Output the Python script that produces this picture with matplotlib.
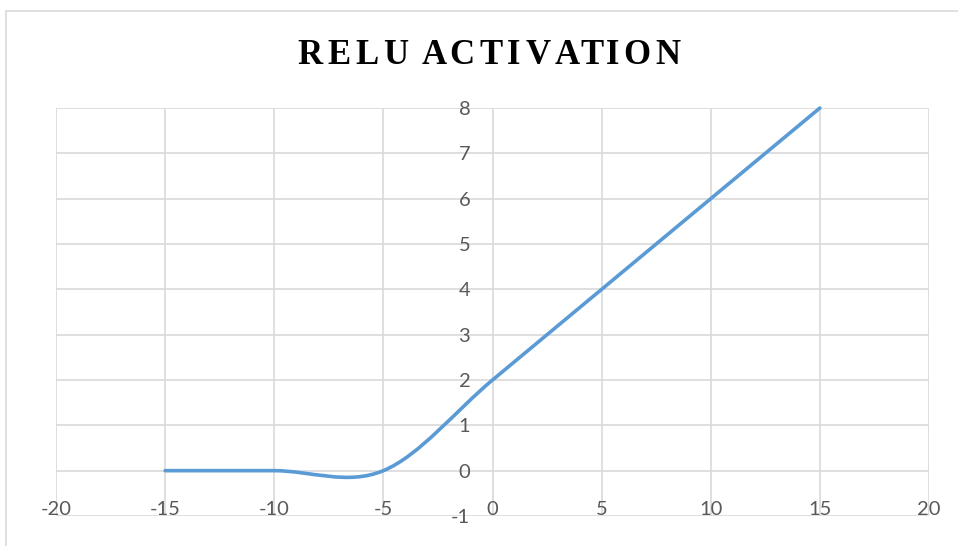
import matplotlib.pyplot as plt
from matplotlib.path import Path
from matplotlib.patches import PathPatch, Rectangle
from matplotlib.font_manager import FontProperties
import numpy as np

# datos del gráfico
x_vals = [-15, -10, -5, 0, 5, 10, 15]
y_vals = [0, 0, 0, 2, 4, 6, 8]
x_ticks = [-20, -15, -10, -5, 0, 5, 10, 15, 20]
y_ticks = [-1, 0, 1, 2, 3, 4, 5, 6, 7, 8]
titulo = "RELU ACTIVATION"

azul = "#5B9BD5"
gris_grid = "#D9D9D9"
gris_txt = "#595959"


def smooth_path(xs, ys):
    """Curva suavizada tipo Excel (Bezier estilo Catmull-Rom)."""
    pts = np.column_stack([xs, ys]).astype(float)
    pad = np.vstack([pts[0], pts, pts[-1]])
    verts = [pts[0]]
    codes = [Path.MOVETO]
    for i in range(len(pts) - 1):
        p0, p1, p2, p3 = pad[i], pad[i + 1], pad[i + 2], pad[i + 3]
        c1 = p1 + (p2 - p0) / 6
        c2 = p2 - (p3 - p1) / 6
        verts += [c1, c2, p2]
        codes += [Path.CURVE4] * 3
    return Path(verts, codes)


fig = plt.figure(figsize=(9.58, 5.46), dpi=100)

# borde del área del gráfico
fig.patches.append(Rectangle((6 / 958, -0.1), 1.2, (546 - 11) / 546 + 0.1,
                             transform=fig.transFigure, fill=False,
                             edgecolor="#D9D9D9", linewidth=1.2))

ax = fig.add_axes([56 / 958, 30 / 546, (929 - 56) / 958, (516 - 108) / 546])
ax.set_xlim(-20, 20)
ax.set_ylim(-1, 8)
ax.set_xticks(x_ticks)
ax.set_yticks(y_ticks)
ax.set_xticklabels([str(v) for v in x_ticks])
ax.set_yticklabels([str(v) for v in y_ticks])
ax.grid(True, color=gris_grid, linewidth=1.2)
ax.set_axisbelow(True)
for s in ax.spines.values():
    s.set_visible(False)
ax.spines["left"].set_position(("data", 0))

ax.tick_params(axis="both", length=0, labelsize=14.5, labelcolor=gris_txt)
ax.tick_params(axis="x", pad=-11)
ax.tick_params(axis="y", pad=16)
for lab in ax.get_xticklabels() + ax.get_yticklabels():
    lab.set_family("Lato")

patch = PathPatch(smooth_path(x_vals, y_vals), facecolor="none",
                  edgecolor=azul, linewidth=2.6, capstyle="round",
                  clip_on=False)
ax.add_patch(patch)

# título con espaciado entre letras (como en Excel)
prop = FontProperties(family="Liberation Serif", weight="bold", size=25)
renderer = fig.canvas.get_renderer()
espacio = 4.7  # px extra entre letras


def ancho(s):
    w, _, _ = renderer.get_text_width_height_descent(s, prop, ismath=False)
    return w


ref = ancho("|")
lefts = []
extra = 0.0
for i, ch in enumerate(titulo):
    if i > 0 and titulo[i - 1] != " ":
        extra += espacio
    lefts.append((ancho(titulo[:i] + "|") - ref if i else 0.0) + extra)
total = ancho(titulo) + extra
x0 = 489 - total / 2
yc = 546 - 55
for ch, lx in zip(titulo, lefts):
    if ch == " ":
        continue
    fig.text((x0 + lx) / 958, yc / 546, ch, ha="left", va="center",
             fontproperties=prop)

plt.savefig("out.png", dpi=100)
